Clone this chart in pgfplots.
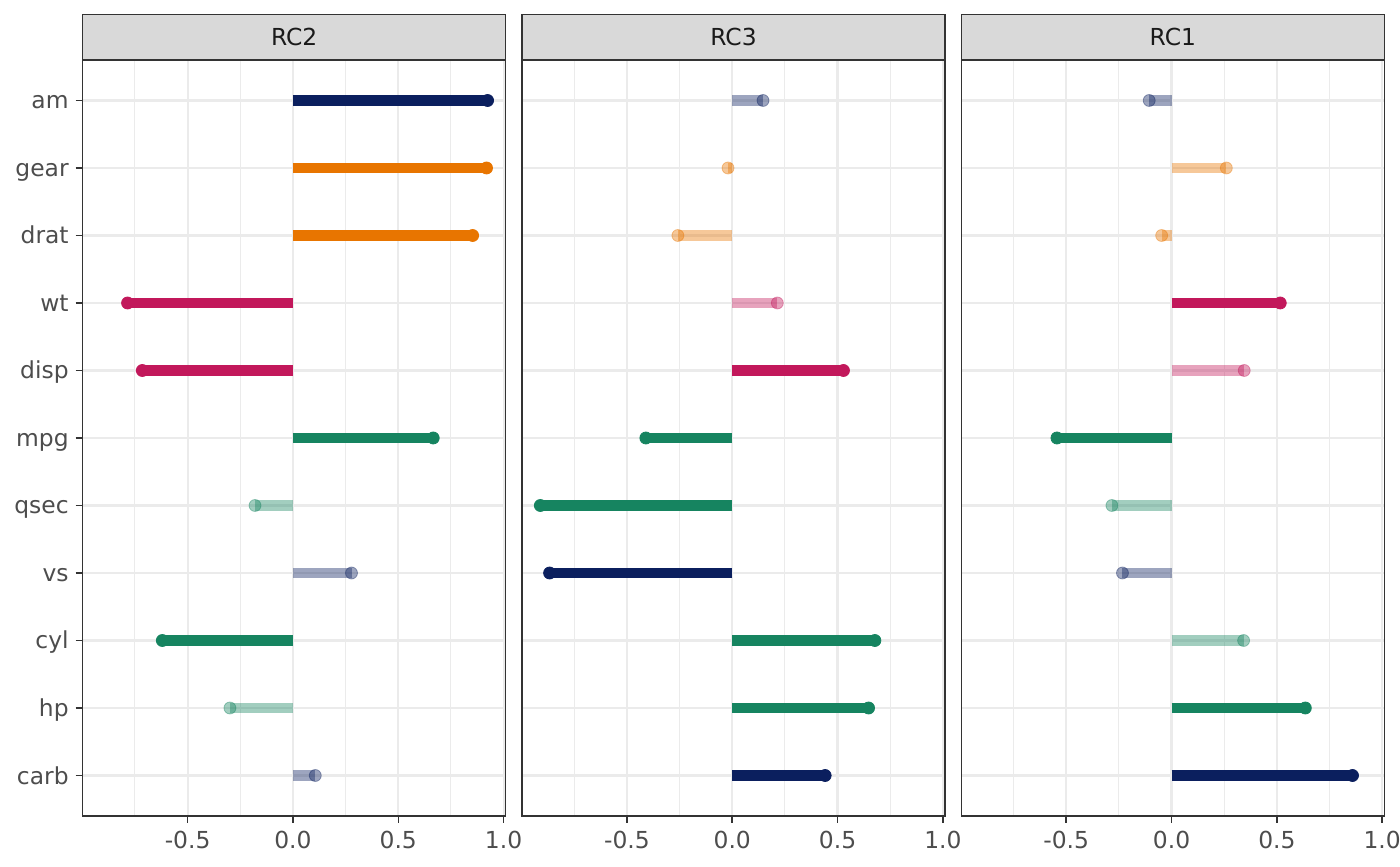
\documentclass[border=0pt]{standalone}
\usepackage{fontspec}
\setmainfont{DejaVu Sans}
\usepackage{pgfplots}
\pgfplotsset{compat=1.18}
\definecolor{cN}{HTML}{0B1F5E}
\definecolor{cO}{HTML}{E87500}
\definecolor{cP}{HTML}{C2185B}
\definecolor{cG}{HTML}{168460}
\definecolor{grid}{HTML}{EBEBEB}
\definecolor{frame}{HTML}{333333}
\definecolor{strip}{HTML}{D9D9D9}
\definecolor{ticktxt}{HTML}{4D4D4D}
\definecolor{striptxt}{HTML}{1A1A1A}
\newcommand{\lol}[4]{%
  \addplot[line width=5.2pt, color=#3, opacity=#4, forget plot] coordinates {(0,#1) (#2,#1)};
  \addplot[only marks, mark=*, mark size=3pt, color=#3, opacity=#4, mark options={draw=none, fill=#3}, forget plot] coordinates {(#2,#1)};
}
\pgfplotsset{
  panel/.style={
    scale only axis, width=211.5pt, height=378pt,
    xmin=-0.998, xmax=1.01, ymin=0.4, ymax=11.6,
    xtick={-0.5,0,0.5,1}, xticklabels={-0.5,0.0,0.5,1.0},
    minor xtick={-0.75,-0.25,0.25,0.75},
    ytick={1,...,11},
    grid=both,
    major grid style={color=grid, line width=1.1pt},
    minor grid style={color=grid, line width=0.55pt},
    axis line style={color=frame, line width=0.75pt},
    tick align=outside, tick pos=left,
    major tick length=3.5pt, minor tick length=0pt,
    tick style={color=frame, line width=0.75pt},
    ticklabel style={font=\fontsize{11.7}{13}\selectfont, text=ticktxt},
    xticklabel style={yshift=-0.5pt},
    yticklabel style={text height=10.5pt, text depth=2pt},
    clip=false,
    anchor=south west,
  }
}
\newcommand{\strip}[1]{%
  \draw[draw=frame, fill=strip, line width=0.75pt] (rel axis cs:0,1) rectangle ([yshift=22.65pt]rel axis cs:1,1);
  \node[font=\fontsize{11.7}{13}\selectfont, text=striptxt] at ([yshift=11.3pt]rel axis cs:0.5,1) {#1};
}
\begin{document}
\begin{tikzpicture}
\path[use as bounding box] (0,0) rectangle (700pt,433pt);
% RC2
\begin{axis}[panel, at={(41.35pt,25pt)},
  yticklabels={carb,hp,cyl,vs,qsec,mpg,disp,wt,drat,gear,am}]
\lol{11}{0.924}{cN}{1}
\lol{10}{0.919}{cO}{1}
\lol{9}{0.853}{cO}{1}
\lol{8}{-0.785}{cP}{1}
\lol{7}{-0.715}{cP}{1}
\lol{6}{0.666}{cG}{1}
\lol{5}{-0.180}{cG}{0.4}
\lol{4}{0.278}{cN}{0.4}
\lol{3}{-0.620}{cG}{1}
\lol{2}{-0.299}{cG}{0.4}
\lol{1}{0.106}{cN}{0.4}
\strip{RC2}
\end{axis}
% RC3
\begin{axis}[panel, at={(261pt,25pt)},
  yticklabels={}, ytick style={draw=none}]
\lol{11}{0.146}{cN}{0.4}
\lol{10}{-0.020}{cO}{0.4}
\lol{9}{-0.258}{cO}{0.4}
\lol{8}{0.214}{cP}{0.4}
\lol{7}{0.528}{cP}{1}
\lol{6}{-0.410}{cG}{1}
\lol{5}{-0.911}{cG}{1}
\lol{4}{-0.867}{cN}{1}
\lol{3}{0.677}{cG}{1}
\lol{2}{0.647}{cG}{1}
\lol{1}{0.441}{cN}{1}
\strip{RC3}
\end{axis}
% RC1
\begin{axis}[panel, at={(480.65pt,25pt)},
  yticklabels={}, ytick style={draw=none}]
\lol{11}{-0.106}{cN}{0.4}
\lol{10}{0.260}{cO}{0.4}
\lol{9}{-0.047}{cO}{0.4}
\lol{8}{0.516}{cP}{1}
\lol{7}{0.345}{cP}{0.4}
\lol{6}{-0.544}{cG}{1}
\lol{5}{-0.283}{cG}{0.4}
\lol{4}{-0.233}{cN}{0.4}
\lol{3}{0.342}{cG}{0.4}
\lol{2}{0.635}{cG}{1}
\lol{1}{0.859}{cN}{1}
\strip{RC1}
\end{axis}
\end{tikzpicture}
\end{document}
